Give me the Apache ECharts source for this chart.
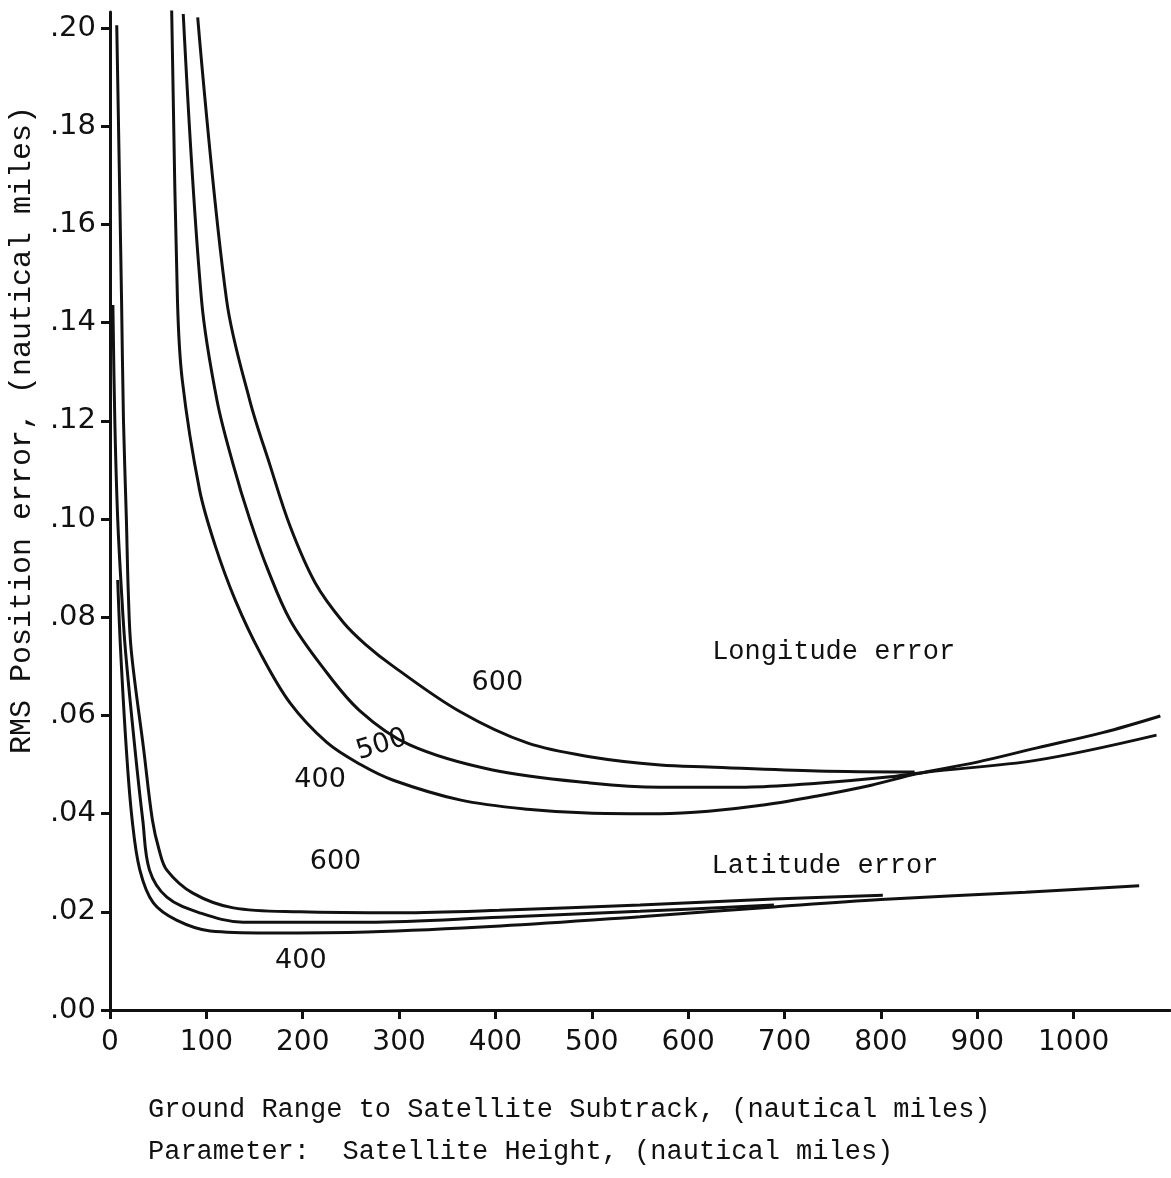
<!DOCTYPE html>
<html>
<head>
<meta charset="utf-8">
<script src="https://cdn.jsdelivr.net/npm/echarts@6/dist/echarts.min.js"></script>
<style>
  html, body { margin: 0; padding: 0; background: #fff; }
  #main { width: 1171px; height: 1178px; }
</style>
</head>
<body>
<div id="main"></div>
<script>
// ground range (n.mi.) vs rms error (n.mi.)
var lon400 = [[64,0.2037],[70,0.1446],[75,0.1283],[93,0.1059],[109,0.0947],[130,0.0835],[156,0.0727],[187,0.0625],[225,0.0545],[260,0.0500],[294,0.0468],[363,0.0428],[433,0.0409],[501,0.0401],[571,0.0400],[621,0.0405],[680,0.0418],[734,0.0436],[790,0.0458],[837,0.0481],[900,0.0505],[962,0.0534],[1030,0.0565],[1090,0.0599]];
var lon500 = [[76,0.2029],[95,0.1446],[111,0.1242],[128,0.1110],[145,0.1000],[164,0.0896],[187,0.0794],[220,0.0700],[259,0.0610],[311,0.0540],[397,0.0489],[501,0.0462],[571,0.0454],[660,0.0454],[734,0.0462],[810,0.0475],[848,0.0485],[962,0.0509],[1086,0.0560]];
var lon600 = [[91,0.2022],[121,0.1446],[145,0.1242],[166,0.1110],[187,0.0985],[213,0.0870],[242,0.0790],[265,0.0745],[294,0.0700],[363,0.0608],[433,0.0544],[501,0.0515],[571,0.0499],[621,0.0495],[734,0.0487],[835,0.0485]];

var lat400 = [[8,0.0876],[11,0.0733],[17,0.0530],[23,0.0387],[31,0.0285],[45,0.0218],[69,0.0183],[104,0.0161],[163,0.0157],[267,0.0159],[405,0.0171],[550,0.0190],[689,0.0210],[800,0.0225],[950,0.0240],[1068,0.0253]];
var lat500 = [[3,0.1436],[5,0.1200],[8,0.1000],[12,0.0850],[16,0.0733],[26,0.0530],[34,0.0387],[41,0.0285],[59,0.0230],[93,0.0198],[138,0.0179],[267,0.0179],[405,0.0189],[550,0.0201],[689,0.0214]];
var lat600 = [[7,0.2006],[12,0.1446],[14,0.1200],[17,0.1000],[19,0.0850],[22,0.0733],[35,0.0530],[44,0.0387],[51,0.0326],[59,0.0285],[86,0.0238],[128,0.0208],[197,0.0200],[301,0.0198],[404,0.0203],[550,0.0214],[689,0.0226],[802,0.0234]];

var xTicks = [0,100,200,300,400,500,600,700,800,900,1000];
var yTicks = [0,0.02,0.04,0.06,0.08,0.10,0.12,0.14,0.16,0.18,0.20];

// curve labels, placed in data units
var noteText = ['600','500','400','600','400','Longitude error','Latitude error'];
var notePos = [[402,0.0666],[282,0.0540],[218,0.0468],[234,0.0301],[198,0.0100],[751,0.0729],[742,0.0293]];
var noteRot = [0,0.3,0,0,0,0,0];
var noteMono = [false,false,false,false,false,true,true];

var chart = echarts.init(document.getElementById('main'));

function curve(data){
    return {
        type: 'line',
        data: data,
        symbol: 'none',
        smooth: 0.35,
        lineStyle: { color: '#111', width: 3 },
        silent: true
    };
}

var option = {
    animation: false,
    backgroundColor: '#fff',
    grid: { left: 110, right: 1, top: 12, bottom: 168 },
    xAxis: {
        type: 'value',
        min: 0,
        max: 1100,
        splitLine: { show: false },
        axisLine: { lineStyle: { color: '#111', width: 3 } },
        axisTick: { customValues: xTicks, length: 9, lineStyle: { color: '#111', width: 3 } },
        axisLabel: {
            customValues: xTicks,
            margin: 19,
            color: '#111',
            fontFamily: 'DejaVu Sans',
            fontSize: 28,
            formatter: function (v) { return String(v); }
        }
    },
    yAxis: {
        type: 'value',
        min: 0,
        max: 0.2033,
        splitLine: { show: false },
        axisLine: { lineStyle: { color: '#111', width: 3 } },
        axisTick: { customValues: yTicks, length: 9, lineStyle: { color: '#111', width: 3 } },
        axisLabel: {
            customValues: yTicks,
            margin: 14,
            color: '#111',
            fontFamily: 'DejaVu Sans',
            fontSize: 29,
            formatter: function (v) { return v.toFixed(2).replace('0.', '.'); }
        }
    },
    series: [curve(lon400), curve(lon500), curve(lon600), curve(lat400), curve(lat500), curve(lat600)]
};

chart.setOption(option);

// text: axis titles and curve labels
var graphics = [
    {
        type: 'text', x: 22, y: 430, rotation: Math.PI / 2,
        style: { text: 'RMS Position error, (nautical miles)', font: '30px "Liberation Mono"', fill: '#111', textAlign: 'center', textVerticalAlign: 'middle' }
    },
    {
        type: 'text', x: 148, y: 1110,
        style: { text: 'Ground Range to Satellite Subtrack, (nautical miles)', font: '27px "Liberation Mono"', fill: '#111', textAlign: 'left', textVerticalAlign: 'middle' }
    },
    {
        type: 'text', x: 148, y: 1152,
        style: { text: 'Parameter:  Satellite Height, (nautical miles)', font: '27px "Liberation Mono"', fill: '#111', textAlign: 'left', textVerticalAlign: 'middle' }
    }
];

for (var i = 0; i < noteText.length; i++) {
    var p = chart.convertToPixel({ gridIndex: 0 }, notePos[i]);
    graphics.push({
        type: 'text', x: p[0], y: p[1], rotation: noteRot[i],
        style: {
            text: noteText[i],
            font: noteMono[i] ? '27px "Liberation Mono"' : '27px "DejaVu Sans"',
            fill: '#111', textAlign: 'center', textVerticalAlign: 'middle'
        }
    });
}

chart.setOption({ graphic: graphics });
</script>
</body>
</html>
